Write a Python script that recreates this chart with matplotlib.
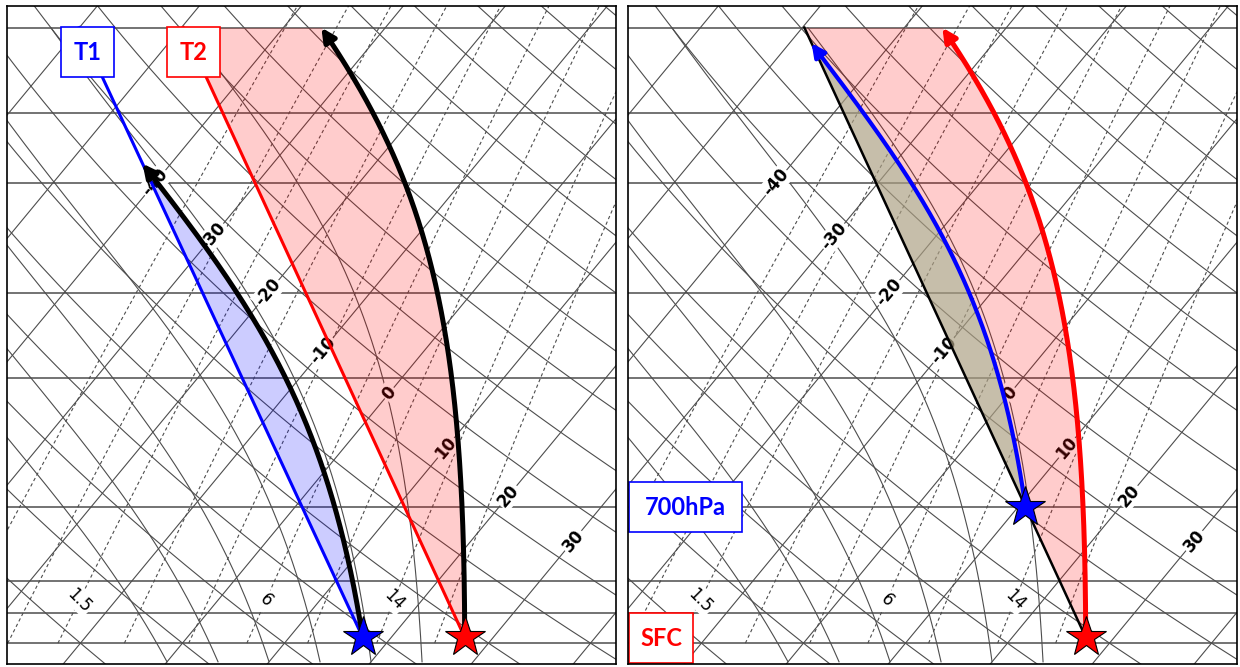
import numpy as np
import matplotlib.pyplot as plt
from matplotlib.patches import Rectangle
from matplotlib.ticker import NullLocator

# skew-T frame
P_BOT, P_TOP = 1056.0, 189.0
SKEW = 31.0                # x shift (degC) per unit ln(1000/p)
X_MIN, X_MAX = -17.2, 42.5
LAPSE_SCALE = 0.975        # the drawing's moist adiabats are a bit "warmer"

# background lines
isobars = [1000, 925, 850, 700, 500, 400, 300, 250, 200]
isotherms = np.arange(-100, 51, 10)
dry_adiabats = np.arange(-40, 161, 10)      # degC at 1000 hPa
moist_adiabats = np.arange(0, 26, 5)        # degC at 1050 hPa
mixing_ratios = [0.6, 1, 1.5, 2.5, 4, 6, 9, 14, 20]   # g/kg

# labels on the diagram
temp_labels = [-40, -30, -20, -10, 0, 10, 20, 30]
temp_label_p = [300, 345, 400, 465, 520, 600, 680, 765]
mix_labels = [1.5, 6, 14]
mix_label_p = 894

# soundings
p_sfc = 985
p_top = 200
p_700 = 700
T1_env = [17.2, -60.0]     # at p_sfc, p_top
T2_env = [27.2, -49.8]


def skx(T, p):
    return np.asarray(T) + SKEW * np.log(1000.0 / np.asarray(p))


def sat_vp(T):
    return 6.112 * np.exp(17.67 * T / (T + 243.5))


def dewpoint(w, p):
    e = p * w / (622.0 + w)
    a = np.log(e / 6.112)
    return 243.5 * a / (17.67 - a)


def moist_lapse(T0, p0, p1, n=400):
    p = np.geomspace(p0, p1, n)
    T = np.empty(n)
    T[0] = T0 + 273.15

    def f(pp, tt):
        es = sat_vp(tt - 273.15)
        rs = 0.622 * es / (pp - es)
        g = (287.04 * tt + 2.501e6 * rs) / (1005.7 + 2.501e6 ** 2 * rs * 0.622 / (287.04 * tt ** 2)) / pp
        return LAPSE_SCALE * g

    for i in range(n - 1):
        h = p[i + 1] - p[i]
        k1 = f(p[i], T[i])
        k2 = f(p[i] + h / 2, T[i] + h * k1 / 2)
        k3 = f(p[i] + h / 2, T[i] + h * k2 / 2)
        k4 = f(p[i] + h, T[i] + h * k3)
        T[i + 1] = T[i] + h * (k1 + 2 * k2 + 2 * k3 + k4) / 6
    return p, T - 273.15


def env_T(env, p):
    frac = np.log(p_sfc / np.asarray(p)) / np.log(p_sfc / p_top)
    return env[0] + (env[1] - env[0]) * frac


def parcel_to_env(T0, p0, env):
    # moist adiabat from (T0, p0) cut where it meets the environment again
    p, T = moist_lapse(T0, p0, p_top)
    d = T - env_T(env, p)
    idx = np.where((d[5:] <= 0))[0]
    if len(idx):
        k = idx[0] + 5
        p, T = p[:k + 1], T[:k + 1]
        T[-1] = env_T(env, p[-1])
    return p, T


def background(ax):
    pp = np.geomspace(P_BOT, P_TOP, 200)
    gk = dict(color='0.3', lw=0.8, zorder=1)
    for p in isobars:
        ax.plot([X_MIN - 100, X_MAX + 100], [p, p], color='0.45', lw=1.4, zorder=1)
    for T in isotherms:
        ax.plot(skx(T, pp[[0, -1]]), pp[[0, -1]], **gk)
    for t in dry_adiabats:
        T = (t + 273.15) * (pp / 1000.0) ** 0.2857 - 273.15
        ax.plot(skx(T, pp), pp, **gk)
    for t in moist_adiabats:
        p, T = moist_lapse(t, 1050, 200)
        ax.plot(skx(T, p), p, **gk)
    pw = np.geomspace(1000, P_TOP, 100)
    for w in mixing_ratios:
        ax.plot(skx(dewpoint(w, pw), pw), pw, color='0.3', lw=0.8,
                dashes=(3, 2.5), zorder=1)
    for t, p in zip(temp_labels, temp_label_p):
        ax.text(skx(t, p), p, str(t), rotation=50, fontsize=12,
                fontweight='bold', ha='center', va='center',
                rotation_mode='anchor', zorder=2,
                bbox=dict(facecolor='white', edgecolor='none', pad=1))
    for w in mix_labels:
        ax.text(skx(dewpoint(w, mix_label_p), mix_label_p), mix_label_p,
                f'{w:g}', rotation=-45, fontsize=12, ha='center', va='center',
                rotation_mode='anchor', zorder=2,
                bbox=dict(facecolor='white', edgecolor='none', pad=1))
    ax.set_yscale('log')
    ax.set_ylim(P_BOT, P_TOP)
    ax.set_xlim(X_MIN, X_MAX)
    ax.set_xticks([])
    ax.set_yticks([])
    ax.yaxis.set_minor_locator(NullLocator())
    for s in ax.spines.values():
        s.set_linewidth(1.2)
        s.set_zorder(7)


def curve_arrow(ax, x, p, color, lw):
    ax.plot(x[:-4], p[:-4], color=color, lw=lw, zorder=4, solid_capstyle='butt')
    ax.annotate('', xy=(x[-1], p[-1]), xytext=(x[-8], p[-8]),
                arrowprops=dict(arrowstyle='-|>', color=color, lw=lw,
                                mutation_scale=20, shrinkA=0, shrinkB=0),
                zorder=4)


def label_box(ax, x0, y0, x1, y1, s, color):
    ax.add_patch(Rectangle((x0, y0), x1 - x0, y1 - y0, transform=ax.transAxes,
                           facecolor='white', edgecolor=color, lw=1.2,
                           zorder=6, clip_on=False))
    ax.text((x0 + x1) / 2, (y0 + y1) / 2, s, transform=ax.transAxes,
            fontsize=17, fontweight='bold', family='Lato', color=color,
            ha='center', va='center', zorder=6)


fig = plt.figure(figsize=(12.4, 6.67), dpi=100)
ax1 = fig.add_axes([7 / 1240, 3 / 667, 609 / 1240, 658 / 667])
ax2 = fig.add_axes([628 / 1240, 3 / 667, 609 / 1240, 658 / 667])
background(ax1)
background(ax2)

p_env = np.array([p_sfc, p_top])

# left panel: surface parcels for soundings T1 and T2
pa, Ta = parcel_to_env(T1_env[0], p_sfc, T1_env)
ax1.fill_betweenx(pa, skx(env_T(T1_env, pa), pa), skx(Ta, pa),
                  color='blue', alpha=0.2, lw=0, zorder=3)
pb, Tb = moist_lapse(T2_env[0], p_sfc, p_top)
ax1.fill_betweenx(pb, skx(env_T(T2_env, pb), pb), skx(Tb, pb),
                  color='red', alpha=0.2, lw=0, zorder=3)
ax1.plot(skx(T1_env, p_env), p_env, color='blue', lw=2.2, zorder=4)
ax1.plot(skx(T2_env, p_env), p_env, color='red', lw=2.2, zorder=4)
curve_arrow(ax1, skx(Ta, pa), pa, 'black', 3.6)
curve_arrow(ax1, skx(Tb, pb), pb, 'black', 3.6)
ax1.plot(skx(T1_env[0], p_sfc), p_sfc, marker='*', ms=30, mfc='blue',
         mec='black', mew=0.8, zorder=5)
ax1.plot(skx(T2_env[0], p_sfc), p_sfc, marker='*', ms=30, mfc='red',
         mec='black', mew=0.8, zorder=5)
label_box(ax1, 0.0887, 0.892, 0.1757, 0.968, 'T1', 'blue')
label_box(ax1, 0.2627, 0.892, 0.3498, 0.968, 'T2', 'red')

# right panel: sounding T2, surface parcel vs 700 hPa parcel
T700 = float(env_T(T2_env, p_700))
pc, Tc = parcel_to_env(T700, p_700, T2_env)
ax2.fill_betweenx(pb, skx(env_T(T2_env, pb), pb), skx(Tb, pb),
                  color='red', alpha=0.2, lw=0, zorder=3)
ax2.fill_betweenx(pc, skx(env_T(T2_env, pc), pc), skx(Tc, pc),
                  color=(0.63, 0.71, 0.58), alpha=0.6, lw=0, zorder=3)
ax2.plot(skx(T2_env, p_env), p_env, color='black', lw=1.8, zorder=4)
curve_arrow(ax2, skx(Tc, pc), pc, 'blue', 3.0)
curve_arrow(ax2, skx(Tb, pb), pb, 'red', 3.6)
ax2.plot(skx(T700, p_700), p_700, marker='*', ms=30, mfc='blue',
         mec='black', mew=0.8, zorder=5)
ax2.plot(skx(T2_env[0], p_sfc), p_sfc, marker='*', ms=30, mfc='red',
         mec='black', mew=0.8, zorder=5)
label_box(ax2, 0.0016, 0.2006, 0.187, 0.2766, '700hPa', 'blue')
label_box(ax2, 0.0016, 0.0015, 0.1067, 0.0775, 'SFC', 'red')

fig.savefig('out.png', dpi=100)
